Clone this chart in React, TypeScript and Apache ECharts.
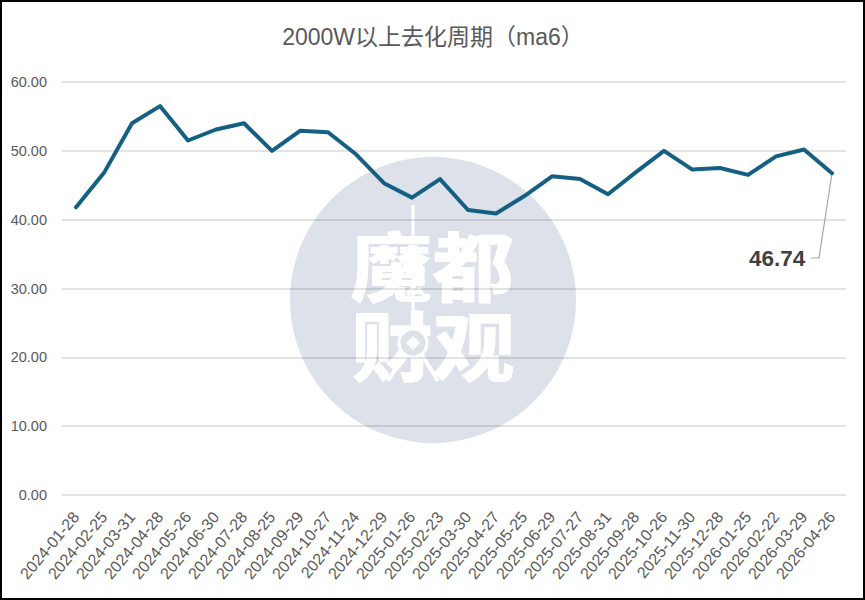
import React, { useEffect, useRef } from "react";
import * as echarts from "echarts";

const titleText = "2000W以上去化周期（ma6）";
const categories = ["2024-01-28","2024-02-25","2024-03-31","2024-04-28","2024-05-26","2024-06-30","2024-07-28","2024-08-25","2024-09-29","2024-10-27","2024-11-24","2024-12-29","2025-01-26","2025-02-23","2025-03-30","2025-04-27","2025-05-25","2025-06-29","2025-07-27","2025-08-31","2025-09-28","2025-10-26","2025-11-30","2025-12-28","2026-01-25","2026-02-22","2026-03-29","2026-04-26"];
const values = [41.8,46.8,54.0,56.5,51.5,53.1,54.0,50.0,52.9,52.7,49.5,45.3,43.2,45.9,41.4,40.9,43.4,46.3,45.9,43.7,46.9,50.0,47.3,47.5,46.5,49.2,50.2,46.74];

const SANS = '"Liberation Sans", "Noto Sans CJK SC", sans-serif';
const CIRCLE = "#dde1ea";

export default function App() {
  const ref = useRef<HTMLDivElement>(null);
  useEffect(() => {
    document.body.style.margin = "0";
    const chart = echarts.init(ref.current!, null, { renderer: "svg" });
    const last = values.length - 1;
    const logoFont = '900 76px "Noto Sans CJK SC"';
    chart.setOption({
      animation: false,
      backgroundColor: "#ffffff",
      title: {
        text: titleText,
        left: 428,
        top: 20,
        textAlign: "center",
        textStyle: { color: "#595959", fontFamily: SANS, fontSize: 23, fontWeight: "normal" },
      },
      grid: { left: 62, right: 19, top: 82, bottom: 105 },
      xAxis: {
        type: "category",
        data: categories,
        boundaryGap: true,
        axisLine: { show: false },
        axisTick: { show: false },
        axisLabel: { interval: 0, rotate: 50, color: "#595959", fontFamily: SANS, fontSize: 16, margin: 19 },
      },
      yAxis: {
        type: "value",
        min: 0,
        max: 60,
        interval: 10,
        axisLine: { show: false },
        axisTick: { show: false },
        splitLine: { lineStyle: { color: "rgba(0,0,0,0.15)", width: 1.5 } },
        axisLabel: { color: "#595959", fontFamily: SANS, fontSize: 14.5, margin: 15, formatter: (v: number) => v.toFixed(2) },
      },
      graphic: {
        elements: [
          { id: "disc", type: "circle", z: -10, shape: { cx: 433, cy: 300, r: 143 }, style: { fill: CIRCLE } },
          { id: "t1", type: "text", z: -9, x: 432, y: 263, scaleX: 1.08, style: { text: "魔都", fill: "#ffffff", font: logoFont, textAlign: "center", textVerticalAlign: "middle" } },
          { id: "t2", type: "text", z: -9, x: 433, y: 343, scaleX: 1.08, style: { text: "财观", fill: "#ffffff", font: logoFont, textAlign: "center", textVerticalAlign: "middle" } },
          { id: "mast", type: "line", z: -8, shape: { x1: 413, y1: 205, x2: 413, y2: 340 }, style: { stroke: "#ffffff", lineWidth: 3 } },
          { id: "ball", type: "circle", z: -8, shape: { cx: 413, cy: 266, r: 10 }, style: { fill: "#ffffff" } },
          { id: "coin", type: "circle", z: -8, shape: { cx: 413, cy: 343, r: 14 }, style: { fill: CIRCLE, stroke: "#ffffff", lineWidth: 3 } },
          { id: "hole", type: "polygon", z: -8, shape: { points: [[413, 336], [420, 343], [413, 350], [406, 343]] }, style: { fill: "#ffffff" } },
          { id: "leg1", type: "line", z: -8, shape: { x1: 404, y1: 355, x2: 388, y2: 381 }, style: { stroke: "#ffffff", lineWidth: 4 } },
          { id: "leg2", type: "line", z: -8, shape: { x1: 413, y1: 357, x2: 413, y2: 381 }, style: { stroke: "#ffffff", lineWidth: 4 } },
          { id: "leg3", type: "line", z: -8, shape: { x1: 422, y1: 355, x2: 438, y2: 381 }, style: { stroke: "#ffffff", lineWidth: 4 } },
        ],
      },
      series: [
        {
          type: "line",
          data: values.map((v, i) =>
            i === last
              ? {
                  value: v,
                  label: {
                    show: true,
                    formatter: (p: any) => Number(p.value).toFixed(2),
                    fontFamily: SANS,
                    fontWeight: "bold",
                    fontSize: 22.5,
                    color: "#404040",
                  },
                }
              : v
          ),
          symbol: "circle",
          symbolSize: 0,
          showSymbol: true,
          showAllSymbol: true,
          smooth: false,
          z: 5,
          lineStyle: { color: "#156082", width: 4, cap: "round", join: "round" },
          labelLayout: (p: any) => (p.dataIndex === last ? { x: 749, y: 258, align: "left", verticalAlign: "middle" } : {}),
        },
      ],
    });
    const end = chart.convertToPixel({ seriesIndex: 0 }, [last, values[last]]);
    chart.setOption({
      graphic: {
        elements: [
          {
            id: "leader",
            type: "polyline",
            z: 4,
            shape: { points: [end, [819, 258], [811, 258]] },
            style: { stroke: "#a6a6a6", lineWidth: 1.2, fill: "none" },
          },
        ],
      },
    });
    return () => chart.dispose();
  }, []);
  return (
    <div style={{ position: "relative", width: 865, height: 600, overflow: "hidden" }}>
      <div ref={ref} style={{ position: "absolute", left: 0, top: 0, width: 865, height: 600 }} />
      <div style={{ position: "absolute", left: 0, top: 0, width: 865, height: 600, boxSizing: "border-box", border: "2px solid #000", pointerEvents: "none" }} />
    </div>
  );
}
